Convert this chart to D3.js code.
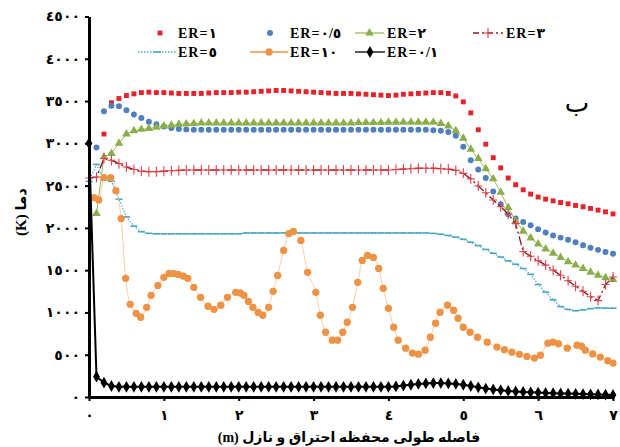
<!DOCTYPE html>
<html>
<head>
<meta charset="utf-8">
<script src="https://cdn.jsdelivr.net/npm/d3@7/dist/d3.min.js"></script>
<style>
  html, body { margin: 0; padding: 0; background: #fff; }
  svg { display: block; }
</style>
</head>
<body>
<svg id="chart" width="620" height="447"></svg>
<script>
// Distance along the combustion chamber and nozzle (m)
const positions = [
  0.0, 0.1, 0.2, 0.3, 0.4, 0.5, 0.6, 0.7, 0.8, 0.9,
  1.0, 1.1, 1.2, 1.3, 1.4, 1.5, 1.6, 1.7, 1.8, 1.9,
  2.0, 2.1, 2.2, 2.3, 2.4, 2.5, 2.6, 2.7, 2.8, 2.9,
  3.0, 3.1, 3.2, 3.3, 3.4, 3.5, 3.6, 3.7, 3.8, 3.9,
  4.0, 4.1, 4.2, 4.3, 4.4, 4.5, 4.6, 4.7, 4.8, 4.9,
  5.0, 5.1, 5.2, 5.3, 5.4, 5.5, 5.6, 5.7, 5.8, 5.9,
  6.0, 6.1, 6.2, 6.3, 6.4, 6.5, 6.6, 6.7, 6.8, 6.9,
  7.0
];

// Temperature (K) for each equivalence ratio, one value per position
const tempER1 = [
  null, null, 3110, 3480, 3530, 3565, 3585, 3600, 3605, 3600,
  3600, 3595, 3590, 3590, 3590, 3590, 3595, 3600, 3600, 3600,
  3605, 3605, 3610, 3615, 3620, 3625, 3625, 3620, 3615, 3610,
  3605, 3600, 3595, 3590, 3590, 3590, 3585, 3580, 3575, 3570,
  3565, 3570, 3580, 3585, 3590, 3595, 3600, 3600, 3590, 3560,
  3490, 3360, 3160, 2990, 2830, 2710, 2590, 2510, 2450, 2400,
  2365, 2340, 2320, 2300, 2285, 2265, 2250, 2230, 2210, 2190,
  2165
];
const tempER05 = [
  null, 2950, 3380, 3445, 3440, 3390, 3340, 3300, 3255, 3225,
  3200, 3180, 3170, 3165, 3160, 3160, 3160, 3160, 3160, 3160,
  3160, 3160, 3160, 3160, 3160, 3160, 3160, 3160, 3160, 3160,
  3160, 3160, 3160, 3160, 3160, 3160, 3160, 3160, 3160, 3160,
  3160, 3160, 3160, 3160, 3160, 3160, 3155, 3150, 3135, 3090,
  2960, 2800, 2690, 2590, 2430, 2280, 2160, 2110, 2070, 2030,
  1985, 1945, 1910, 1885, 1860, 1830, 1795, 1765, 1740, 1715,
  1695
];
const tempER2 = [
  null, 2170, 2840, 2880, 3000, 3110, 3150, 3165, 3175, 3190,
  3205, 3215, 3225, 3230, 3235, 3240, 3240, 3240, 3240, 3240,
  3240, 3240, 3240, 3240, 3240, 3240, 3240, 3240, 3240, 3240,
  3240, 3240, 3240, 3240, 3240, 3240, 3245, 3245, 3245, 3245,
  3250, 3250, 3250, 3250, 3250, 3250, 3250, 3235, 3205, 3150,
  3060, 2930, 2820, 2700, 2580, 2420, 2240, 2080, 1960, 1880,
  1810, 1750, 1700, 1650, 1600, 1560, 1520, 1475, 1440, 1410,
  1390
];
const tempER3 = [
  2590, 2600, 2820, 2800, 2760, 2720, 2690, 2670, 2665, 2665,
  2670, 2675, 2680, 2685, 2685, 2685, 2685, 2685, 2685, 2685,
  2685, 2685, 2685, 2685, 2685, 2685, 2685, 2685, 2685, 2685,
  2685, 2685, 2685, 2685, 2685, 2685, 2685, 2685, 2685, 2685,
  2685, 2690, 2695, 2700, 2705, 2705, 2705, 2700, 2695, 2680,
  2645, 2580, 2495, 2415, 2330, 2250, 2165, 2050, 1720, 1665,
  1610, 1560, 1500, 1440, 1375, 1310, 1250, 1185, 1140, 1330,
  1420
];
const tempER5 = [
  2550, 2750, 2570, 2550, 2340, 2130, 2020, 1955, 1935, 1930,
  1930, 1930, 1930, 1930, 1930, 1930, 1930, 1930, 1930, 1930,
  1930, 1940, 1940, 1940, 1940, 1940, 1940, 1940, 1940, 1940,
  1940, 1940, 1940, 1940, 1940, 1940, 1940, 1940, 1940, 1940,
  1940, 1940, 1940, 1940, 1940, 1940, 1935, 1925, 1910, 1890,
  1865, 1830, 1790, 1745, 1700, 1655, 1610, 1570, 1520, 1450,
  1330, 1240, 1150, 1070, 1035, 1020, 1030, 1045, 1055, 1050,
  1050
];
const tempER01 = [
  3000, 240, 170, 130, 120, 120, 120, 120, 120, 120,
  120, 120, 120, 120, 120, 120, 120, 120, 120, 120,
  120, 120, 120, 120, 120, 120, 120, 120, 120, 120,
  120, 120, 120, 120, 120, 120, 120, 120, 120, 120,
  120, 125, 135, 145, 155, 160, 165, 165, 160, 155,
  145, 130, 115, 100, 90, 80, 72, 66, 60, 56,
  52, 48, 45, 42, 40, 38, 35, 32, 30, 28,
  25
];

// ER=10 is sampled on its own set of positions
const posER10 = [
  0.07, 0.13, 0.20, 0.29, 0.36, 0.43, 0.49, 0.55, 0.63, 0.69,
  0.77, 0.83, 0.92, 1.00, 1.07, 1.13, 1.19, 1.26, 1.32, 1.40,
  1.49, 1.59, 1.67, 1.76, 1.85, 1.96, 2.02, 2.07, 2.13, 2.19,
  2.26, 2.32, 2.40, 2.46, 2.52, 2.60, 2.67, 2.73, 2.83, 2.92,
  3.03, 3.09, 3.16, 3.25, 3.32, 3.39, 3.45, 3.52, 3.59, 3.65,
  3.72, 3.80, 3.87, 3.93, 4.00, 4.07, 4.13, 4.23, 4.32, 4.40,
  4.49, 4.56, 4.63, 4.69, 4.79, 4.87, 4.93, 5.00, 5.09, 5.19,
  5.32, 5.45, 5.55, 5.65, 5.75, 5.85, 5.95, 6.03, 6.13, 6.20,
  6.27, 6.39, 6.52, 6.58, 6.63, 6.73, 6.83, 6.93, 7.00
];
const tempER10 = [
  2358, 2330, 2594, 2594, 2440, 2110, 1403, 1096, 990, 943,
  1061, 1202, 1320, 1415, 1462, 1460, 1450, 1430, 1403, 1297,
  1179, 1073, 1037, 1085, 1179, 1238, 1230, 1202, 1130, 1061,
  1000, 967, 1061, 1250, 1438, 1733, 1933, 1957, 1851, 1474,
  1238, 967, 766, 672, 672, 766, 884, 1061, 1356, 1615,
  1674, 1650, 1521, 1285, 1049, 825, 672, 578, 519, 507,
  554, 707, 872, 1002, 1085, 1026, 931, 825, 766, 707,
  648, 590, 560, 530, 505, 480, 460, 495, 637, 650,
  630, 578, 613, 600, 554, 510, 472, 430, 401
];

const legendLabels = ["ER=١", "ER=٠/٥", "ER=٢", "ER=٣", "ER=٥", "ER=١٠", "ER=٠/١"];
const yTickValues = [0, 500, 1000, 1500, 2000, 2500, 3000, 3500, 4000, 4500];
const yTickLabels = ["٠", "٥٠٠", "١٠٠٠", "١٥٠٠", "٢٠٠٠", "٢٥٠٠", "٣٠٠٠", "٣٥٠٠", "٤٠٠٠", "٤٥٠٠"];
const xTickValues = [0, 1, 2, 3, 4, 5, 6, 7];
const xTickLabels = ["٠", "١", "٢", "٣", "٤", "٥", "٦", "٧"];
const xTitle = "فاصله طولی محفظه احتراق و نازل (m)";
const yTitle = "دما (K)";
const panelLetter = "ب";

const svg = d3.select("#chart");
const FONT = "'Liberation Serif', 'DejaVu Sans', serif";

const x = d3.scaleLinear().domain([0, 7]).range([89, 613]);
const y = d3.scaleLinear().domain([0, 4500]).range([397, 16.5]);

const pts = (vals) => positions.map((p, i) => [p, vals[i]]).filter(d => d[1] != null);

// marker shapes
const sq = d3.symbol().type(d3.symbolSquare).size(24);
const tri = d3.symbol().type(d3.symbolTriangle).size(32);
const dia = d3.symbol().type(d3.symbolDiamond).size(40);
const dot = d3.symbol().type(d3.symbolCircle).size(28);
const bigDot = d3.symbol().type(d3.symbolCircle).size(42);
const plusPath = "M-4,0H4M0,-5V5";
const dashPath = "M-3.5,0H3.5";

const plot = svg.append("g");

function drawLine(data, opts) {
  const line = d3.line().x(d => x(d[0])).y(d => y(d[1]));
  if (opts.curve) line.curve(opts.curve);
  plot.append("path").datum(data)
    .attr("fill", "none")
    .attr("stroke", opts.stroke)
    .attr("stroke-width", opts.width || 1)
    .attr("stroke-dasharray", opts.dash || null)
    .attr("d", line);
}
function drawMarks(data, shape, opts) {
  plot.append("g").selectAll("path").data(data).join("path")
    .attr("transform", d => `translate(${x(d[0])},${y(d[1])})`)
    .attr("d", shape)
    .attr("fill", opts.fill || "none")
    .attr("stroke", opts.stroke || "none")
    .attr("stroke-width", opts.sw || 1);
}

// ER=1: red squares
drawMarks(pts(tempER1), sq, { fill: "#e4232b" });
// ER=0.5: blue dots
drawMarks(pts(tempER05), dot, { fill: "#4f7fbf" });
// ER=2: green triangles on a thin line
drawLine(pts(tempER2), { stroke: "#9bbb59", width: 1 });
drawMarks(pts(tempER2), tri, { fill: "#8aae4a" });
// ER=3: dark red dash-dot line with plus markers
drawLine(pts(tempER3), { stroke: "#8e1c22", width: 1.4, dash: "9,3,2,3" });
drawMarks(pts(tempER3), plusPath, { stroke: "#e0404a", sw: 1.1 });
// ER=5: light blue dotted line with dash markers
drawLine(pts(tempER5), { stroke: "#4bacc6", width: 1.2, dash: "1.5,1.5" });
drawMarks(pts(tempER5), dashPath, { stroke: "#4aa6c2", sw: 1.6 });
// ER=10: smooth pale orange line and orange dots
const er10 = posER10.map((p, i) => [p, tempER10[i]]);
drawLine(er10, { stroke: "#f6cfae", width: 1, curve: d3.curveMonotoneX });
drawMarks(er10, bigDot, { fill: "#ee9346" });
// ER=0.1: black line with diamonds
drawLine(pts(tempER01), { stroke: "#000", width: 2 });
drawMarks(pts(tempER01), dia, { fill: "#000" });

// axes
const yAxis = d3.axisLeft(y).tickValues(yTickValues).tickSize(4).tickSizeOuter(0)
  .tickFormat((d, i) => yTickLabels[i]);
const gy = svg.append("g").attr("transform", "translate(89,0)").call(yAxis);
gy.select(".domain").attr("stroke", "#000").attr("stroke-width", 3);
gy.selectAll(".tick line").attr("stroke", "#000").attr("stroke-width", 2);
gy.selectAll(".tick text")
  .attr("x", -9)
  .attr("fill", "#000")
  .style("font-family", FONT).style("font-size", "14px").style("font-weight", "bold")
  .style("letter-spacing", "1.5px");

const xAxis = d3.axisBottom(x).tickValues(xTickValues).tickSize(4).tickSizeOuter(0)
  .tickFormat((d, i) => xTickLabels[i]);
const gx = svg.append("g").attr("transform", "translate(0,397)").call(xAxis);
gx.select(".domain").attr("stroke", "#000").attr("stroke-width", 3);
gx.selectAll(".tick line").attr("stroke", "#000").attr("stroke-width", 2);
gx.selectAll(".tick text")
  .attr("y", 13)
  .attr("fill", "#000")
  .style("font-family", FONT).style("font-size", "14px").style("font-weight", "bold");

// axis titles
svg.append("text")
  .attr("x", 349).attr("y", 442)
  .attr("text-anchor", "middle")
  .attr("direction", "rtl")
  .style("unicode-bidi", "embed")
  .style("font-family", FONT).style("font-size", "14px").style("font-weight", "bold")
  .text(xTitle);

svg.append("text")
  .attr("transform", "translate(26,212) rotate(-90)")
  .attr("text-anchor", "middle")
  .attr("direction", "rtl")
  .style("unicode-bidi", "embed")
  .style("font-family", FONT).style("font-size", "15px").style("font-weight", "bold")
  .text(yTitle);

svg.append("text")
  .attr("x", 577).attr("y", 112)
  .attr("text-anchor", "middle")
  .style("font-family", "'DejaVu Serif', 'DejaVu Sans', serif").style("font-size", "26px")
  .text(panelLetter);

// legend
const legendLayout = [
  { row: 0, x0: 150, x1: 170, tx: 178 },
  { row: 0, x0: 260, x1: 280, tx: 290 },
  { row: 0, x0: 355, x1: 384, tx: 387 },
  { row: 0, x0: 473, x1: 503, tx: 506 },
  { row: 1, x0: 138, x1: 177, tx: 178 },
  { row: 1, x0: 250, x1: 288, tx: 290 },
  { row: 1, x0: 355, x1: 385, tx: 387 }
];
const legendStyle = [
  { mark: sq, fill: "#e4232b" },
  { mark: dot, fill: "#4f7fbf" },
  { line: "#9bbb59", mark: tri, fill: "#8aae4a" },
  { line: "#8e1c22", dash: "6,3,2,3", mark: plusPath, stroke: "#e0404a" },
  { line: "#4bacc6", dash: "1.5,1.5", mark: dashPath, stroke: "#4aa6c2", sw: 1.6 },
  { line: "#ee9346", mark: bigDot, fill: "#ee9346" },
  { line: "#000", mark: dia, fill: "#000" }
];
const rowY = [33, 52];
const legend = svg.append("g");
legendLabels.forEach((label, i) => {
  const L = legendLayout[i], S = legendStyle[i];
  const cy = rowY[L.row];
  const cx = (L.x0 + L.x1) / 2;
  if (S.line) {
    legend.append("line")
      .attr("x1", L.x0).attr("x2", L.x1).attr("y1", cy).attr("y2", cy)
      .attr("stroke", S.line).attr("stroke-width", 1.3)
      .attr("stroke-dasharray", S.dash || null);
  }
  legend.append("path")
    .attr("transform", `translate(${cx},${cy})`)
    .attr("d", S.mark)
    .attr("fill", S.fill || "none")
    .attr("stroke", S.stroke || "none")
    .attr("stroke-width", S.sw || 1.1);
  legend.append("text")
    .attr("x", L.tx).attr("y", cy + 5)
    .style("font-family", FONT).style("font-size", "14px").style("font-weight", "bold")
    .style("letter-spacing", "1px")
    .text(label);
});
</script>
</body>
</html>
